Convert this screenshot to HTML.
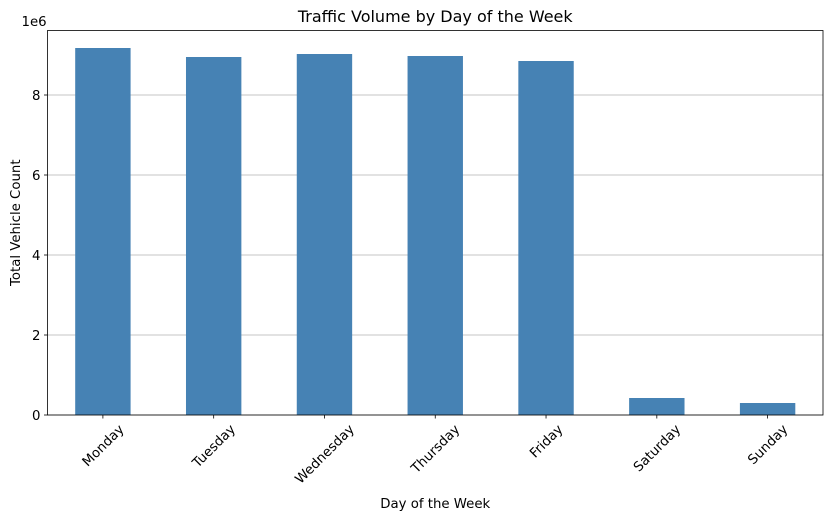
<!DOCTYPE html>
<html><head><meta charset="utf-8"><style>
body{margin:0;background:#fff;font-family:"Liberation Sans","DejaVu Sans",sans-serif}
svg text{font-family:"DejaVu Sans","Liberation Sans",sans-serif;fill:#000}
</style></head><body>
<svg id="chart" width="833" height="521" xmlns="http://www.w3.org/2000/svg"></svg>
<script>
const categories=["Monday","Tuesday","Wednesday","Thursday","Friday","Saturday","Sunday"];
const values=[9175000,8950000,9025000,8975000,8850000,425000,300000];
const yTicks=[0,2,4,6,8];
const svg=document.getElementById('chart');
const NS='http://www.w3.org/2000/svg';
const L=47.5,R=823,T=30.5,B=415;
const FS=13.3;
const yMax=(B-T)/40*1e6;
function y(v){return B-(v/yMax)*(B-T);}
const step=(R-L)/categories.length;
function xc(i){return L+step*(i+0.5);}
function mk(tag,attrs,parent){const e=document.createElementNS(NS,tag);for(const k in attrs)e.setAttribute(k,attrs[k]);(parent||svg).appendChild(e);return e;}
yTicks.forEach(t=>{
  const yy=y(t*1e6);
  const g=mk('line',{x1:L,x2:R,y1:yy,y2:yy,stroke:'#b0b0b0','stroke-width':0.8});
  
  
  const tk=mk('line',{x1:L-3.5,x2:L,y1:yy,y2:yy,stroke:'#000','stroke-width':0.8});
  
  
  const tx=mk('text',{x:L-7,y:yy+5,'text-anchor':'end','font-size':FS});
  tx.textContent=t;
  
  
});
categories.forEach((c,i)=>{
  const bw=step*0.5;
  const b=mk('rect',{x:xc(i)-bw/2,y:y(values[i]),width:bw,height:B-y(values[i]),fill:'#4682b4'});
  
  
  const tk=mk('line',{x1:xc(i),x2:xc(i),y1:B,y2:B+3.5,stroke:'#000','stroke-width':0.8});
  
  
  const tx=mk('text',{x:0,y:0,'text-anchor':'middle','font-size':FS});
  tx.textContent=c;
  
  
  const len=tx.getComputedTextLength();
  const h=(len+FS)*0.7071;
  tx.setAttribute('transform',`translate(${xc(i)},${B+7+h/2}) rotate(-45) translate(0,${FS*0.35})`);
});
const fr=mk('rect',{x:L,y:T,width:R-L,height:B-T,fill:'none',stroke:'#000','stroke-width':0.8});


const ti=mk('text',{x:(L+R)/2,y:22,'text-anchor':'middle','font-size':16});
ti.textContent='Traffic Volume by Day of the Week';


const ex=mk('text',{x:L-26,y:26,'font-size':FS});
ex.textContent='1e6';


const xt=mk('text',{x:(L+R)/2,y:508,'text-anchor':'middle','font-size':FS});
xt.textContent='Day of the Week';


const yt=mk('text',{x:0,y:0,'text-anchor':'middle','font-size':FS,transform:`translate(20,${(T+B)/2}) rotate(-90)`});
yt.textContent='Total Vehicle Count';


</script>
</body></html>
